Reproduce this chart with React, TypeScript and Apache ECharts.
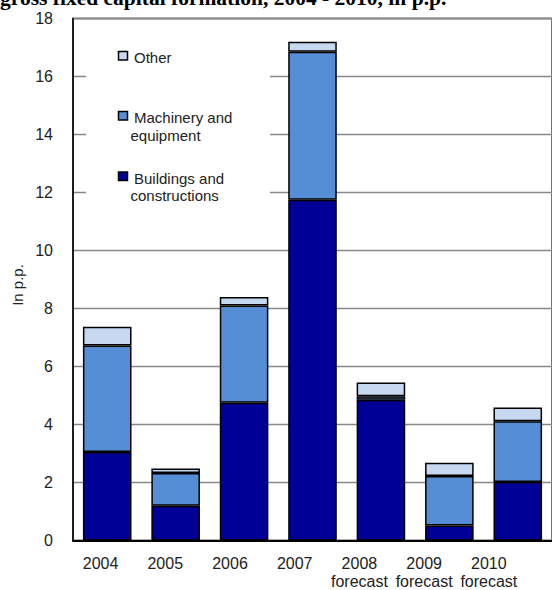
import React, { useEffect, useRef } from "react";
import * as echarts from "echarts";

const categories = ["2004", "2005", "2006", "2007", "2008", "2009", "2010"];
const tickLabels = ["2004", "2005", "2006", "2007", "2008\nforecast", "2009\nforecast", "2010\nforecast"];
const buildings = [3.05, 1.2, 4.75, 11.75, 4.85, 0.52, 2.02];
const machinery = [3.67, 1.13, 3.35, 5.1, 0.12, 1.7, 2.09];
const other = [0.65, 0.15, 0.3, 0.35, 0.48, 0.46, 0.48];
const seriesNames = ["Buildings and constructions", "Machinery and equipment", "Other"];
const colors = ["#000096", "#558ed5", "#c6d9f1"];
const titleText = "gross fixed capital formation, 2004 - 2010, in p.p.";
const yName = "In p.p.";

const FONT = "'Liberation Sans', Arial, sans-serif";

export default function App() {
  const ref = useRef<HTMLDivElement>(null);
  useEffect(() => {
    if (!ref.current) return;
    const chart = echarts.init(ref.current, null, { renderer: "svg" });
    const barStyle = (c: string) => ({ color: c, borderColor: "#000", borderWidth: 1.5 });
    const legendItems = [
      { color: colors[2], lines: ["Other"], y: 56 },
      { color: colors[1], lines: ["Machinery and", "equipment"], y: 116 },
      { color: colors[0], lines: ["Buildings and", "constructions"], y: 176.5 },
    ];
    const graphics: any[] = [
      {
        type: "rect",
        z: 5,
        shape: { x: 86, y: 26, width: 184, height: 205 },
        style: { fill: "#fff" },
      },
      {
        type: "text",
        z: 10,
        x: 0,
        y: -1.8,
        style: {
          text: titleText,
          font: "bold 21.5px 'Liberation Serif', 'Times New Roman', serif",
          fill: "#000",
          verticalAlign: "middle",
        },
      },
      {
        type: "text",
        z: 10,
        x: 17,
        y: 285,
        rotation: Math.PI / 2,
        style: {
          text: yName,
          font: `15px ${FONT}`,
          fill: "#222",
          align: "center",
          verticalAlign: "middle",
        },
      },
    ];
    legendItems.forEach((it) => {
      graphics.push({
        type: "rect",
        z: 10,
        shape: { x: 118.5, y: it.y - 4.5, width: 9, height: 8.5 },
        style: { fill: it.color, stroke: "#000", lineWidth: 1.5 },
      });
      it.lines.forEach((ln, i) => {
        graphics.push({
          type: "text",
          z: 10,
          x: i === 0 ? 134 : 130.5,
          y: it.y + 1.5 + i * 17.5,
          style: {
            text: ln,
            font: `15px ${FONT}`,
            fill: "#222",
            verticalAlign: "middle",
          },
        });
      });
    });

    chart.setOption({
      animation: false,
      grid: [
        { left: 73, top: 18.5, width: 481.6, bottom: 49.5, show: true, borderColor: "#000", borderWidth: 1.5, backgroundColor: "transparent" },
        { left: 68.2, top: 18.5, width: 453, bottom: 49.5, show: false },
      ],
      xAxis: [
        {
          type: "category",
          gridIndex: 0,
          data: categories,
          axisLine: { lineStyle: { color: "#000", width: 2 } },
          axisTick: { show: false },
          axisLabel: { show: false },
          splitLine: {
            show: true,
            interval: (index: number) => index === 4,
            lineStyle: { color: "#888", width: 1.5 },
          },
        },
        {
          type: "category",
          gridIndex: 1,
          data: tickLabels,
          axisLine: { show: false },
          axisTick: { show: false },
          splitLine: { show: false },
          axisLabel: { margin: 16, fontSize: 16, lineHeight: 18, color: "#222", fontFamily: FONT, interval: 0 },
        },
      ],
      yAxis: [
        {
          type: "value",
          gridIndex: 0,
          min: 0,
          max: 18,
          interval: 2,
          axisLine: { show: true, lineStyle: { color: "#000", width: 1.5 } },
          axisTick: { show: false },
          axisLabel: { margin: 20, fontSize: 16, color: "#222", fontFamily: FONT },
          splitLine: { show: true, lineStyle: { color: "#888", width: 1.3 } },
        },
        {
          type: "value",
          gridIndex: 1,
          min: 0,
          max: 18,
          show: false,
          splitLine: { show: false },
        },
      ],
      series: [
        { name: seriesNames[0], type: "bar", stack: "t", data: buildings, barWidth: "71%", itemStyle: barStyle(colors[0]), xAxisIndex: 0, yAxisIndex: 0 },
        { name: seriesNames[1], type: "bar", stack: "t", data: machinery, barWidth: "71%", itemStyle: barStyle(colors[1]), xAxisIndex: 0, yAxisIndex: 0 },
        { name: seriesNames[2], type: "bar", stack: "t", data: other, barWidth: "71%", itemStyle: barStyle(colors[2]), xAxisIndex: 0, yAxisIndex: 0 },
      ],
      graphic: graphics,
    });
    return () => chart.dispose();
  }, []);
  return <div ref={ref} style={{ width: 552, height: 590, position: "absolute", left: 0, top: 0 }} />;
}
